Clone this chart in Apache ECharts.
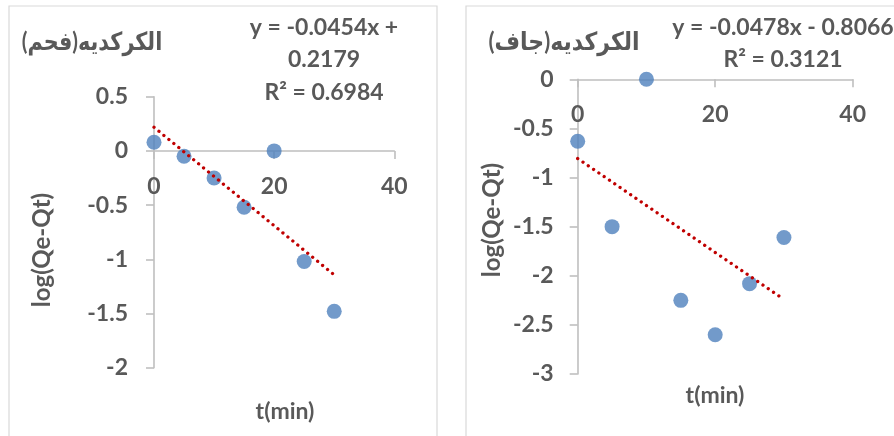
<!DOCTYPE html>
<html><head><meta charset="utf-8">
<script src="https://cdn.jsdelivr.net/npm/echarts@6/dist/echarts.min.js"></script>
<style>html,body{margin:0;padding:0;background:#fff}#c{width:894px;height:436px}</style>
</head><body><div id="c"></div>
<script>
// ---- data ----
const timeMin = [0, 5, 10, 15, 20, 25, 30];
const charcoalLog = [0.08, -0.05, -0.25, -0.52, 0, -1.02, -1.48];
const dryLog = [-0.63, -1.5, 0, -2.25, -2.6, -2.08, -1.61];
const charcoalTrendX = [0, 30];
const charcoalTrendY = [0.2179, -1.1441];
const dryTrendX = [0, 30];
const dryTrendY = [-0.8066, -2.2406];
const titles = ['الكركديه(فحم)', 'الكركديه(جاف)'];
const eqLeft = ['y = -0.0454x +', '0.2179', 'R² = 0.6984'];
const eqRight = ['y = -0.0478x - 0.8066', 'R² = 0.3121'];
const xName = 't(min)';
const yName = 'log(Qe-Qt)';

const FONT = "Lato, 'DejaVu Sans', sans-serif";
const TXT = '#595959';
const AX = '#bfbfbf';
const FS = 23;

const grids = [
  {left: 154, top: 96.7, width: 240.3, height: 271},
  {left: 577.7, top: 79.3, width: 275, height: 294.7}
];

function pairs(xs, ys){ return xs.map((x,i)=>[x, ys[i]]); }

function xAxisCfg(gi){
  return {
    gridIndex: gi, type: 'value', min: 0, max: 40, interval: 20, position: 'bottom', offset: 0,
    axisLine: {show: true, onZero: false, lineStyle: {color: AX, width: 1.6}},
    axisTick: {show: true, length: 8, lineStyle: {color: AX, width: 1.6}},
    axisLabel: {color: TXT, fontFamily: FONT, fontWeight: 'bold', fontSize: FS, margin: 24, showMinLabel: true, showMaxLabel: true},
    splitLine: {show: false}
  };
}
function yAxisCfg(gi, min, max, margin){
  return {
    gridIndex: gi, type: 'value', min: min, max: max, interval: 0.5,
    axisLine: {show: true, onZero: false, lineStyle: {color: AX, width: 1.6}},
    axisTick: {show: true, length: 8, lineStyle: {color: AX, width: 1.6}},
    axisLabel: {color: TXT, fontFamily: FONT, fontWeight: 'bold', fontSize: FS, margin: margin, showMinLabel: true, showMaxLabel: true},
    splitLine: {show: false}
  };
}
function scatter(gi, data){
  return {type: 'scatter', xAxisIndex: gi, yAxisIndex: gi, data: data, symbolSize: 15, clip: false,
    itemStyle: {color: '#4f81bd'}, z: 3};
}
function trend(gi, data){
  return {type: 'line', xAxisIndex: gi, yAxisIndex: gi, data: data, symbol: 'none', clip: false,
    lineStyle: {color: '#c00000', width: 3.3, type: [0.01, 6.4], cap: 'round'}, z: 4, silent: true};
}
function txt(x, y, s, opt, fs){
  return Object.assign({type: 'text', x: x, y: y, style: {text: s, fill: TXT, font: 'bold ' + (fs || FS) + 'px ' + FONT, textAlign: 'center', textVerticalAlign: 'middle'}}, opt || {});
}

const chart = echarts.init(document.getElementById('c'), null, {renderer: 'canvas'});
chart.setOption({
  animation: false,
  backgroundColor: '#fff',
  grid: grids,
  xAxis: [xAxisCfg(0), xAxisCfg(1)],
  yAxis: [yAxisCfg(0, -2, 0.5, 26), yAxisCfg(1, -3, 0, 24)],
  series: [
    scatter(0, pairs(timeMin, charcoalLog)),
    trend(0, pairs(charcoalTrendX, charcoalTrendY)),
    scatter(1, pairs(timeMin, dryLog)),
    trend(1, pairs(dryTrendX, dryTrendY))
  ],
  graphic: [
    {type: 'rect', shape: {x: 9, y: 6, width: 428, height: 440}, style: {fill: null, stroke: '#d9d9d9', lineWidth: 1.2}, silent: true},
    {type: 'rect', shape: {x: 466, y: 6, width: 440, height: 440}, style: {fill: null, stroke: '#d9d9d9', lineWidth: 1.2}, silent: true},
    txt(92, 42, titles[0], {scaleX: 0.83}, 25),
    txt(564, 42, titles[1], {scaleX: 0.88}, 25),
    txt(324, 28, eqLeft[0]),
    txt(324, 60, eqLeft[1]),
    txt(324, 93, eqLeft[2]),
    txt(783, 28, eqRight[0]),
    txt(783, 60, eqRight[1]),
    txt(285, 412, xName),
    txt(715, 396, xName),
    txt(42, 250, yName, {rotation: Math.PI/2}, 24),
    txt(492, 220, yName, {rotation: Math.PI/2}, 24)
  ]
});
// move each x axis onto the y = 0 line of its own y scale
const offsets = grids.map((g, i) => {
  const p = chart.convertToPixel({gridIndex: i}, [0, 0]);
  return p[1] - (g.top + g.height);
});
chart.setOption({xAxis: offsets.map(o => ({offset: o}))});
</script></body></html>
